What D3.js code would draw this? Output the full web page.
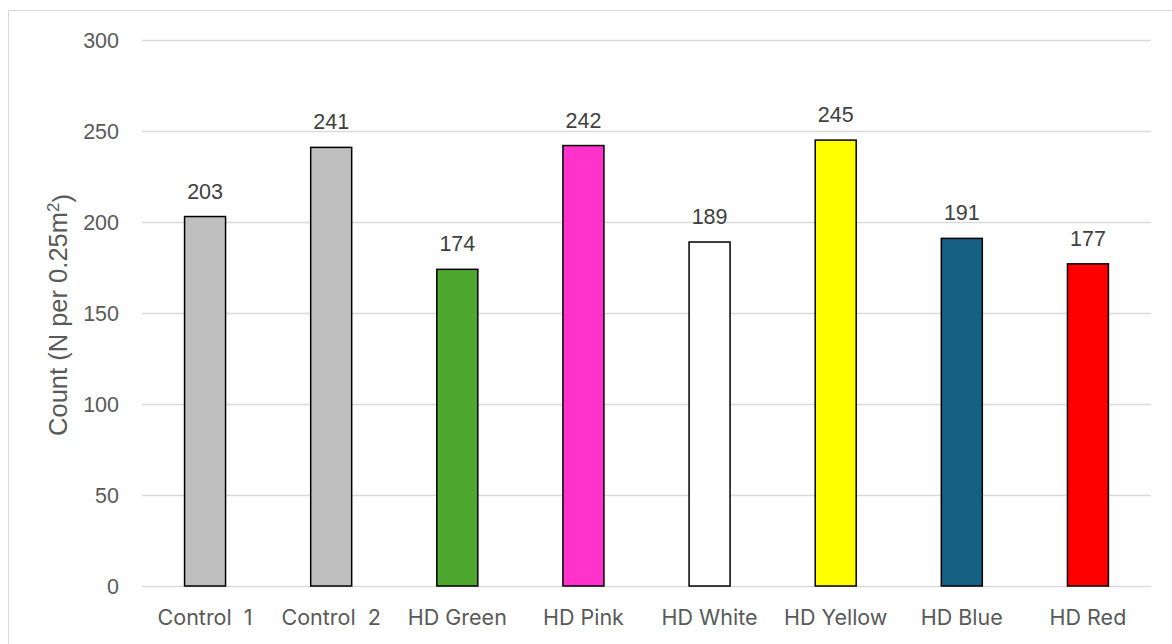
<!DOCTYPE html>
<html>
<head>
<meta charset="utf-8">
<script src="https://cdn.jsdelivr.net/npm/d3@7"></script>
<style>
  html, body { margin: 0; padding: 0; background: #fff; }
  svg { display: block; }
</style>
</head>
<body>
<svg id="chart" width="1172" height="644"></svg>
<script>
// Counts per treatment
const categories = ["Control  1", "Control  2", "HD Green", "HD Pink", "HD White", "HD Yellow", "HD Blue", "HD Red"];
const counts = [203, 241, 174, 242, 189, 245, 191, 177];
const barColors = ["#bfbfbf", "#bfbfbf", "#4ea72e", "#ff33cc", "#ffffff", "#ffff00", "#156082", "#ff0000"];
const yTicks = [0, 50, 100, 150, 200, 250, 300];
const yTitle = "Count (N per 0.25m";
const yTitleSup = "2";

const svg = d3.select("#chart");
const W = 1172, H = 644;
const margin = { left: 142, right: 21, top: 40, bottom: 58 };
const sans = "'Liberation Sans', Arial, sans-serif";

// Outer chart frame
svg.append("rect")
  .attr("x", 8.5).attr("y", 10.5)
  .attr("width", W).attr("height", H)
  .attr("fill", "#fff").attr("stroke", "#d9d9d9").attr("stroke-width", 1);

const x = d3.scaleBand()
  .domain(categories)
  .range([margin.left, W - margin.right])
  .paddingInner(0.675).paddingOuter(0.3375);

const y = d3.scaleLinear()
  .domain([0, 300])
  .range([H - margin.bottom, margin.top]);

// Gridlines and y tick labels
const yAxis = d3.axisLeft(y).tickValues(yTicks)
  .tickSize(-(W - margin.right - margin.left)).tickPadding(23);
const gy = svg.append("g")
  .attr("transform", `translate(${margin.left},0)`)
  .call(yAxis);
gy.select(".domain").remove();
gy.selectAll(".tick line").attr("stroke", "#d9d9d9").attr("stroke-width", 1.5);
gy.selectAll(".tick text")
  .attr("fill", "#595959")
  .attr("dy", "0.36em")
  .style("font-family", sans)
  .style("font-size", "21.5px");

// Bars
svg.append("g").selectAll("rect")
  .data(categories)
  .join("rect")
  .attr("x", d => x(d))
  .attr("width", x.bandwidth())
  .attr("y", (d, i) => y(counts[i]))
  .attr("height", (d, i) => y(0) - y(counts[i]))
  .attr("fill", (d, i) => barColors[i])
  .attr("stroke", "#000")
  .attr("stroke-width", 1.5);

// Value labels
svg.append("g").selectAll("text")
  .data(categories)
  .join("text")
  .attr("x", d => x(d) + x.bandwidth() / 2)
  .attr("y", (d, i) => y(counts[i]) - 18)
  .attr("text-anchor", "middle")
  .attr("fill", "#404040")
  .style("font-family", sans)
  .style("font-size", "21.5px")
  .text((d, i) => counts[i]);

// Category labels
svg.append("g").selectAll("text")
  .data(categories)
  .join("text")
  .attr("x", d => x(d) + x.bandwidth() / 2)
  .attr("y", H - margin.bottom + 39)
  .attr("text-anchor", "middle")
  .attr("fill", "#595959")
  .style("font-family", "Inter, 'Open Sans', sans-serif")
  .style("font-size", "21.5px")
  .style("white-space", "pre")
  .attr("xml:space", "preserve")
  .text(d => d);

// Y axis title with superscript unit
const title = svg.append("text")
  .attr("transform", `translate(67, ${(margin.top + H - margin.bottom) / 2 + 2}) rotate(-90)`)
  .attr("text-anchor", "middle")
  .attr("fill", "#595959")
  .style("font-family", sans)
  .style("font-size", "25.5px");
title.append("tspan").text(yTitle);
title.append("tspan").attr("dy", "-0.5em").style("font-size", "17px").text(yTitleSup);
title.append("tspan").attr("dy", "0.5em").text(")");
</script>
</body>
</html>
